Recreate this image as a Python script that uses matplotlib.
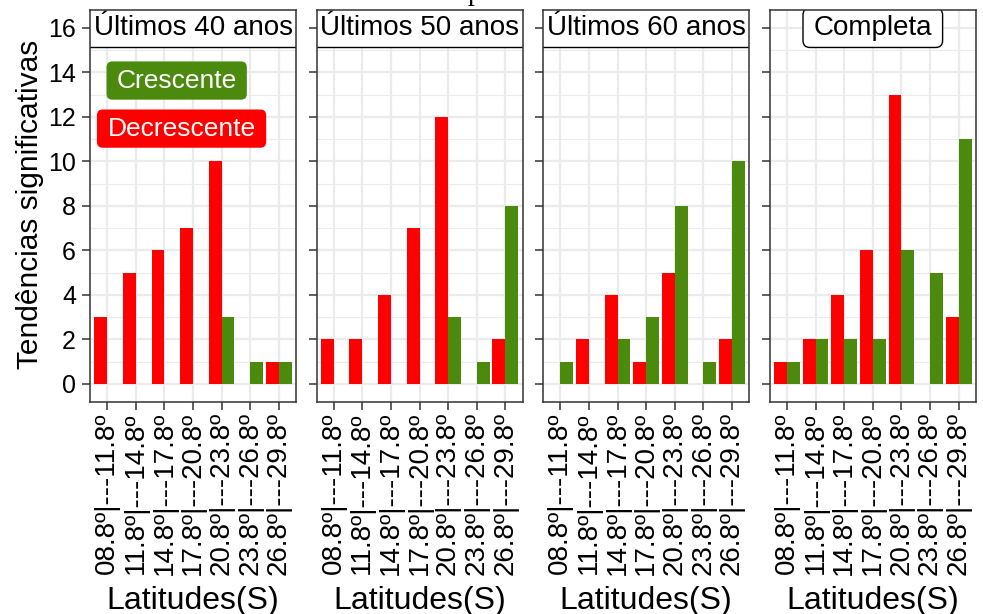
import numpy as np
import matplotlib
matplotlib.use("Agg")
import matplotlib.pyplot as plt
from matplotlib.ticker import MultipleLocator
from matplotlib.patches import BoxStyle

plt.rcParams['font.family'] = ['Liberation Sans', 'DejaVu Sans']

# ---- data ----
lat_labels = ["08.8º|---11.8º", "11.8º|---14.8º", "14.8º|---17.8º", "17.8º|---20.8º",
              "20.8º|---23.8º", "23.8º|---26.8º", "26.8º|---29.8º"]
panel_titles = ["Últimos 40 anos", "Últimos 50 anos", "Últimos 60 anos", "Completa"]

decrescente_40 = [3, 5, 6, 7, 10, 0, 1]
crescente_40 = [0, 0, 0, 0, 3, 1, 1]
decrescente_50 = [2, 2, 4, 7, 12, 0, 2]
crescente_50 = [0, 0, 0, 0, 3, 1, 8]
decrescente_60 = [0, 2, 4, 1, 5, 0, 2]
crescente_60 = [1, 0, 2, 3, 8, 1, 10]
decrescente_all = [1, 2, 4, 6, 13, 0, 3]
crescente_all = [1, 2, 2, 2, 6, 5, 11]

y_ticks = [0, 2, 4, 6, 8, 10, 12, 14, 16]
legend_labels = ["Crescente", "Decrescente"]

dec_series = [decrescente_40, decrescente_50, decrescente_60, decrescente_all]
cre_series = [crescente_40, crescente_50, crescente_60, crescente_all]

RED = "#FF0000"
GREEN = "#4C8A0E"
BORDER = "#333333"
GRID = "#EBEBEB"


def box_style(padx, pady, r):
    base = BoxStyle.Round(pad=0, rounding_size=r) if r > 0 else BoxStyle.Square(pad=0)

    def f(x0, y0, width, height, mutation_size):
        px = padx * mutation_size
        py = pady * mutation_size
        return base(x0 - px, y0 - py, width + 2 * px, height + 2 * py, mutation_size)
    return f


W, H = 983, 614
fig = plt.figure(figsize=(W / 100, H / 100), dpi=100)

lefts = [90, 316.5, 543.2, 769.8]
pw = 206
ptop, pbot = 10, 401.7

x = np.arange(1, len(lat_labels) + 1)
bw = 0.45

for i in range(4):
    ax = fig.add_axes([lefts[i] / W, 1 - pbot / H, pw / W, (pbot - ptop) / H])
    ax.bar(x - bw / 2, dec_series[i], width=bw, color=RED, lw=0, zorder=2)
    ax.bar(x + bw / 2, cre_series[i], width=bw, color=GREEN, lw=0, zorder=2)
    ax.set_xlim(0.4, 7.6)
    ax.set_ylim(-0.8, 16.8)
    ax.set_yticks(y_ticks)
    ax.yaxis.set_minor_locator(MultipleLocator(1))
    ax.set_xticks(x)
    ax.set_xticklabels(lat_labels, rotation=90, fontsize=20)
    ax.set_axisbelow(True)
    ax.grid(which='major', color=GRID, lw=1.6, zorder=0)
    ax.grid(which='minor', axis='y', color=GRID, lw=0.8, zorder=0)
    ax.tick_params(which='minor', length=0)
    ax.tick_params(axis='both', which='major', length=6, width=1.1, color=BORDER,
                   labelcolor='black')
    ax.tick_params(axis='x', pad=1.5, labelsize=20)
    ax.tick_params(axis='y', pad=4, labelsize=18)
    if i > 0:
        ax.set_yticklabels([])
    for s in ax.spines.values():
        s.set_color(BORDER)
        s.set_linewidth(1.1)
        s.set_zorder(6)

    if i < 3:
        ax.text(4, 16, panel_titles[i], ha='center', va='center', fontsize=20,
                bbox=dict(boxstyle=box_style(0.3, 0.24, 0), fc='white', ec='black', lw=1.0),
                clip_on=True, zorder=5)
    else:
        ax.text(4, 16, panel_titles[i], ha='center', va='center', fontsize=20,
                bbox=dict(boxstyle=box_style(0.38, 0.24, 0.25), fc='white',
                          ec='black', lw=1.0),
                clip_on=True, zorder=5)

    if i == 0:
        ax.text(3.43, 13.63, legend_labels[0], ha='center', va='center',
                fontsize=19, color='white',
                bbox=dict(boxstyle=box_style(0.38, 0.27, 0.22), fc=GREEN, ec='none'),
                zorder=5)
        ax.text(3.6, 11.47, legend_labels[1], ha='center', va='center',
                fontsize=19, color='white',
                bbox=dict(boxstyle=box_style(0.4, 0.27, 0.22), fc=RED, ec='none'),
                zorder=5)

    fig.text((lefts[i] + pw / 2) / W, 1 - 609 / H, "Latitudes(S)", ha='center',
             va='baseline', fontsize=23)

fig.text(30 / W, 1 - 204 / H, "Tendências significativas", rotation=90,
         ha='center', va='center', fontsize=21.5)

fig.text(475 / W, 1.0, "p", family=['Liberation Serif', 'DejaVu Serif'],
         fontsize=20, ha='center', va='baseline')

fig.savefig("out.png", dpi=100)
